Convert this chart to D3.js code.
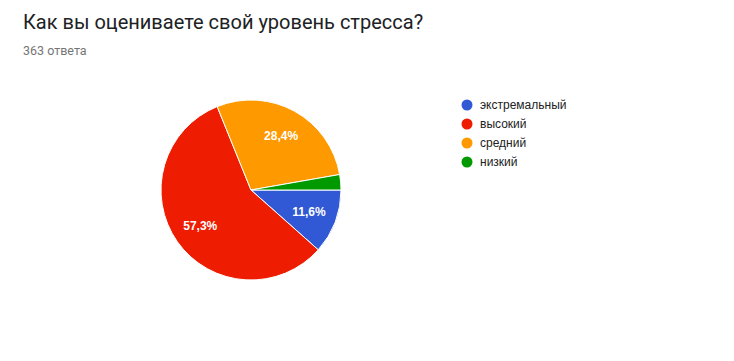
<!DOCTYPE html>
<html><head><meta charset="utf-8">
<script src="https://cdn.jsdelivr.net/npm/d3@7"></script>
<style>body{margin:0;background:#fff;}svg{display:block;}</style>
</head><body>
<svg id="c" width="734" height="361"></svg>
<script>
const title = "Как вы оцениваете свой уровень стресса?";
const subtitle = "363 ответа";
const categories = ["экстремальный", "высокий", "средний", "низкий"];
const counts = [42, 208, 103, 10];
const colors = ["#3159d5", "#ee1c00", "#ff9900", "#009900"];

const svg = d3.select("#c");
svg.append("text").attr("x", 23).attr("y", 29)
  .attr("font-family", "Roboto, 'Liberation Sans', Arial, sans-serif")
  .attr("font-size", 20).attr("fill", "#202124").text(title);
svg.append("text").attr("x", 23).attr("y", 55)
  .attr("font-family", "Roboto, 'Liberation Sans', Arial, sans-serif")
  .attr("font-size", 12.5).attr("fill", "#757575").text(subtitle);

const cx = 251, cy = 190, r = 90;
const total = d3.sum(counts);
const pie = d3.pie().sort(null).startAngle(Math.PI / 2).endAngle(Math.PI / 2 + 2 * Math.PI);
const arcs = pie(counts);
const arc = d3.arc().innerRadius(0).outerRadius(r);
const labelArc = d3.arc().innerRadius(r * 0.69).outerRadius(r * 0.69);
const g = svg.append("g").attr("transform", `translate(${cx},${cy})`);
g.selectAll("path").data(arcs).join("path")
  .attr("d", arc).attr("fill", (d, i) => colors[i])
  .attr("stroke", "#fff").attr("stroke-width", 1);
g.selectAll("text").data(arcs.filter(d => d.value / total > 0.05)).join("text")
  .attr("transform", d => `translate(${labelArc.centroid(d)})`)
  .attr("text-anchor", "middle").attr("dy", "0.35em")
  .attr("font-family", "'Liberation Sans', Arial, sans-serif")
  .attr("font-size", 12).attr("font-weight", "bold").attr("fill", "#fff")
  .text(d => (d.value / total * 100).toFixed(1).replace(".", ",") + "%");

const lg = svg.append("g").attr("transform", "translate(467,105)");
const items = lg.selectAll("g").data(categories).join("g")
  .attr("transform", (d, i) => `translate(0,${i * 19})`);
items.append("circle").attr("r", 5.5).attr("fill", (d, i) => colors[i]);
items.append("text").attr("x", 13).attr("dy", "0.35em")
  .attr("font-family", "'Liberation Sans', Arial, sans-serif")
  .attr("font-size", 12).attr("fill", "#222").text(d => d);
</script>
</body></html>
